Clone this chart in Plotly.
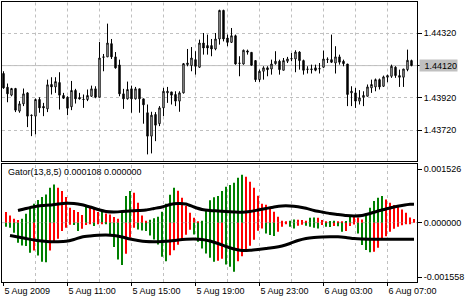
import plotly.graph_objects as go

# ---------------- data (EURUSD-like M15 bars, 5 Aug 07:00 -> 6 Aug 08:30) ----------------
OPEN = [1.44071, 1.43986, 1.43937, 1.43978, 1.43838, 1.43883, 1.43951, 1.43813, 1.43807, 1.43910,
        1.43867, 1.43852, 1.44003, 1.43988, 1.44015, 1.43935, 1.43924, 1.43865, 1.43966, 1.43922,
        1.43911, 1.43910, 1.43930, 1.43976, 1.43924, 1.44174, 1.44174, 1.44256, 1.44174, 1.44124,
        1.43945, 1.43914, 1.43976, 1.43914, 1.43976, 1.43914, 1.43828, 1.43683, 1.43817, 1.43760,
        1.43858, 1.43951, 1.43957, 1.43941, 1.43900, 1.43951, 1.44126, 1.44120, 1.44157, 1.44110,
        1.44260, 1.44244, 1.44244, 1.44223, 1.44285, 1.44462, 1.44291, 1.44264, 1.44305, 1.44136,
        1.44130, 1.44211, 1.44202, 1.44151, 1.44033, 1.44085, 1.44106, 1.44099, 1.44132, 1.44147,
        1.44091, 1.44147, 1.44161, 1.44161, 1.44204, 1.44151, 1.44099, 1.44095, 1.44106, 1.44099,
        1.44110, 1.44157, 1.44157, 1.44136, 1.44174, 1.44147, 1.44130, 1.43951, 1.43951, 1.43900,
        1.43924, 1.43930, 1.43982, 1.43988, 1.44033, 1.43992, 1.44048, 1.44054, 1.44110, 1.44058,
        1.44048, 1.44095, 1.44151]
HIGH = [1.44085, 1.44009, 1.43982, 1.43982, 1.43900, 1.43978, 1.43955, 1.43817, 1.43916, 1.43924,
        1.43889, 1.44033, 1.44048, 1.44048, 1.44079, 1.43951, 1.43930, 1.44025, 1.43976, 1.43951,
        1.43941, 1.43972, 1.43996, 1.43992, 1.44266, 1.44192, 1.44380, 1.44285, 1.44204, 1.44157,
        1.43976, 1.44021, 1.43996, 1.43988, 1.43976, 1.43914, 1.43879, 1.43834, 1.43832, 1.43869,
        1.43982, 1.43988, 1.43957, 1.43961, 1.43961, 1.44136, 1.44223, 1.44235, 1.44209, 1.44281,
        1.44322, 1.44312, 1.44285, 1.44322, 1.44466, 1.44466, 1.44312, 1.44353, 1.44312, 1.44178,
        1.44219, 1.44219, 1.44202, 1.44151, 1.44095, 1.44116, 1.44116, 1.44157, 1.44209, 1.44157,
        1.44167, 1.44174, 1.44198, 1.44215, 1.44209, 1.44157, 1.44116, 1.44126, 1.44126, 1.44136,
        1.44213, 1.44171, 1.44312, 1.44240, 1.44188, 1.44157, 1.44130, 1.43992, 1.43982, 1.43968,
        1.43961, 1.44003, 1.44033, 1.44040, 1.44040, 1.44058, 1.44064, 1.44126, 1.44116, 1.44095,
        1.44099, 1.44219, 1.44157]
LOW = [1.43976, 1.43893, 1.43930, 1.43832, 1.43828, 1.43869, 1.43739, 1.43683, 1.43694, 1.43828,
       1.43807, 1.43832, 1.43941, 1.43951, 1.43848, 1.43914, 1.43813, 1.43844, 1.43885, 1.43910,
       1.43858, 1.43900, 1.43926, 1.43918, 1.43924, 1.44085, 1.44174, 1.44161, 1.44101, 1.43930,
       1.43852, 1.43910, 1.43828, 1.43910, 1.43828, 1.43760, 1.43570, 1.43576, 1.43652, 1.43745,
       1.43807, 1.43889, 1.43879, 1.43869, 1.43834, 1.43947, 1.44116, 1.44085, 1.44064, 1.44106,
       1.44188, 1.44188, 1.44178, 1.44215, 1.44250, 1.44270, 1.44240, 1.44260, 1.44126, 1.44054,
       1.44126, 1.44188, 1.44120, 1.44019, 1.44019, 1.44033, 1.44054, 1.44064, 1.44126, 1.44064,
       1.44091, 1.44136, 1.44147, 1.44079, 1.44095, 1.44064, 1.44071, 1.44071, 1.44085, 1.44071,
       1.44106, 1.44136, 1.44136, 1.44071, 1.44126, 1.44116, 1.43869, 1.43869, 1.43858, 1.43879,
       1.43869, 1.43930, 1.43951, 1.43961, 1.43972, 1.43988, 1.44017, 1.44044, 1.44044, 1.43988,
       1.43988, 1.44085, 1.44116]
CLOSE = [1.43982, 1.43945, 1.43978, 1.43844, 1.43883, 1.43945, 1.43807, 1.43811, 1.43910, 1.43858,
         1.43858, 1.44001, 1.43988, 1.44021, 1.43937, 1.43918, 1.43856, 1.43966, 1.43914, 1.43914,
         1.43910, 1.43935, 1.43976, 1.43924, 1.44167, 1.44172, 1.44260, 1.44174, 1.44106, 1.43945,
         1.43914, 1.43972, 1.43914, 1.43976, 1.43914, 1.43877, 1.43683, 1.43813, 1.43751, 1.43858,
         1.43961, 1.43961, 1.43937, 1.43900, 1.43951, 1.44132, 1.44136, 1.44167, 1.44116, 1.44260,
         1.44229, 1.44229, 1.44223, 1.44285, 1.44462, 1.44285, 1.44264, 1.44305, 1.44130, 1.44134,
         1.44215, 1.44204, 1.44122, 1.44033, 1.44085, 1.44106, 1.44095, 1.44130, 1.44147, 1.44095,
         1.44151, 1.44161, 1.44163, 1.44204, 1.44151, 1.44091, 1.44097, 1.44099, 1.44091, 1.44101,
         1.44161, 1.44159, 1.44141, 1.44174, 1.44141, 1.44132, 1.43941, 1.43961, 1.43900, 1.43920,
         1.43935, 1.43988, 1.44003, 1.44033, 1.43988, 1.44050, 1.44058, 1.44116, 1.44058, 1.44048,
         1.44099, 1.44153, 1.44120]

# Gator oscillator histograms (upper = |jaw-teeth|, lower = -|teeth-lips|)
GATOR_UP = [0.000306, 0.000209, 0.000114, 0.000077, 0.000114, 0.000257, 0.000409, 0.000543, 0.000649, 0.000735,
            0.000809, 0.001001, 0.001095, 0.001001, 0.000907, 0.000735, 0.000429, 0.000363, 0.000306, 0.000220,
            0.000449, 0.000429, 0.000409, 0.000306, 0.000335, 0.000266, 0.000237, 0.000163, 0.000114, 0.000286,
            0.000764, 0.000907, 0.000858, 0.000572, 0.000209, 0.000057, 0.000086, 0.000129, 0.000172, 0.000315,
            0.000543, 0.000801, 0.001001, 0.000915, 0.000715, 0.000486, 0.000286, 0.000143, 0.000043, 0.000057,
            0.000358, 0.000644, 0.000724, 0.000764, 0.000907, 0.001030, 0.001078, 0.001144, 0.001287, 0.001373,
            0.001316, 0.001173, 0.001001, 0.000772, 0.000543, 0.000515, 0.000429, 0.000315, 0.000172, 0.000057,
            0.000029, 0.000057, 0.000094, 0.000086, 0.000080, 0.000057, 0.000143, 0.000152, 0.000143, 0.000077,
            0.000029, 0.000049, 0.000057, 0.000029, 0.000014, 0.000049, 0.000172, 0.000166, 0.000152, 0.000094,
            0.000266, 0.000429, 0.000621, 0.000715, 0.000764, 0.000666, 0.000572, 0.000506, 0.000458, 0.000380,
            0.000286, 0.000152, 0.000108]
GATOR_DN = [-0.000114, -0.000143, -0.000286, -0.000572, -0.000649, -0.000666, -0.000858, -0.000792, -0.000935, -0.001115,
            -0.001130, -0.000792, -0.000523, -0.000458, -0.000237, -0.000143, -0.000057, -0.000066, -0.000237, -0.000172,
            -0.000066, -0.000029, -0.000094, -0.000043, -0.000020, -0.000034, -0.000380, -0.000695, -0.001050, -0.001210,
            -0.000887, -0.000429, -0.000143, -0.000192, -0.000220, -0.000237, -0.000363, -0.000478, -0.000623, -0.000972,
            -0.001101, -0.000930, -0.000787, -0.000629, -0.000486, -0.000343, -0.000200, -0.000337, -0.000543, -0.000738,
            -0.000881, -0.001001, -0.001115, -0.001087, -0.001030, -0.001193, -0.001258, -0.001401, -0.001101, -0.000958,
            -0.000772, -0.000658, -0.000486, -0.000229, -0.000163, -0.000306, -0.000352, -0.000380, -0.000257, -0.000114,
            -0.000029, -0.000114, -0.000163, -0.000086, -0.000057, -0.000086, -0.000114, -0.000143, -0.000163, -0.000066,
            -0.000114, -0.000120, -0.000094, -0.000100, -0.000257, -0.000237, -0.000094, -0.000049, -0.000306, -0.000638,
            -0.000781, -0.000844, -0.000829, -0.000715, -0.000486, -0.000386, -0.000257, -0.000172, -0.000114, -0.000072,
            -0.000043, -0.000023, 0.0]

# smooth envelope lines drawn on the oscillator window
UP_LINE_BARS = list(range(3, 102, 2)) + [102]
UP_LINE = [0.000349, 0.000406, 0.000458, 0.000492, 0.000506, 0.000535, 0.000555, 0.000549, 0.000512, 0.000449,
           0.000378, 0.000320, 0.000306, 0.000320, 0.000335, 0.000349, 0.000363, 0.000406, 0.000449, 0.000521,
           0.000549, 0.000535, 0.000449, 0.000378, 0.000349, 0.000335, 0.000320, 0.000306, 0.000297, 0.000320,
           0.000363, 0.000406, 0.000449, 0.000478, 0.000478, 0.000455, 0.000412, 0.000349, 0.000306, 0.000263,
           0.000235, 0.000206, 0.000192, 0.000206, 0.000263, 0.000335, 0.000392, 0.000449, 0.000492, 0.000526,
           0.000526]
DN_LINE_BARS = list(range(1, 102, 2)) + [102]
DN_LINE = [-0.000366, -0.000409, -0.000452, -0.000495, -0.000523, -0.000543, -0.000543, -0.000532, -0.000480, -0.000409,
           -0.000380, -0.000360, -0.000352, -0.000366, -0.000409, -0.000466, -0.000509, -0.000538, -0.000543, -0.000538,
           -0.000523, -0.000495, -0.000475, -0.000466, -0.000480, -0.000523, -0.000595, -0.000681, -0.000752, -0.000795,
           -0.000789, -0.000766, -0.000738, -0.000709, -0.000666, -0.000595, -0.000509, -0.000452, -0.000423, -0.000409,
           -0.000403, -0.000403, -0.000423, -0.000452, -0.000466, -0.000472, -0.000475, -0.000475, -0.000475, -0.000475,
           -0.000475, -0.000475]

PRICE_TICKS = [1.43720, 1.43920, 1.44120, 1.44320]
OSC_TICKS = [0.001526, 0.0, -0.001558]
OSC_TICK_TEXT = ["0.001526", "0.000000", "-0.001558"]
TIME_TICK_BARS = [0, 16, 32, 48, 64, 80, 96]
TIME_TICK_TEXT = ["5 Aug 2009", "5 Aug 11:00", "5 Aug 15:00", "5 Aug 19:00",
                  "5 Aug 23:00", "6 Aug 03:00", "6 Aug 07:00"]
GRID_BARS = [8, 16, 24, 32, 40, 48, 56, 64, 72, 80, 88, 96]
BID = 1.44120
GATOR_LABEL = "Gator(13,8,5) 0.000108 0.000000"

# ---------------- styling ----------------
GREEN = "#008000"
RED = "#FF0000"
GRID = "#C0C0C0"
FONT = dict(family="Liberation Sans, Arial, sans-serif", size=9, color="black")
GATOR_SHIFT = 0.625  # oscillator bars are drawn slightly right of the candle centres

N = len(OPEN)
idx = list(range(N))


def hist_colors(vals, first):
    out, prev, col = [], None, first
    for v in vals:
        m = abs(v)
        if prev is not None:
            if m > prev:
                col = GREEN
            elif m < prev:
                col = RED
        out.append(col)
        prev = m
    return out


fig = go.Figure()

fig.add_trace(go.Candlestick(
    x=idx, open=OPEN, high=HIGH, low=LOW, close=CLOSE,
    increasing=dict(line=dict(color="black", width=1), fillcolor="white"),
    decreasing=dict(line=dict(color="black", width=1), fillcolor="black"),
    whiskerwidth=0, xaxis="x", yaxis="y", showlegend=False, hoverinfo="skip"))

gx = [i + GATOR_SHIFT for i in idx]
fig.add_trace(go.Bar(x=gx, y=GATOR_UP, width=0.5, marker=dict(color=hist_colors(GATOR_UP, RED), line=dict(width=0)),
                     xaxis="x2", yaxis="y2", showlegend=False))
fig.add_trace(go.Bar(x=gx, y=GATOR_DN, width=0.5, marker=dict(color=hist_colors(GATOR_DN, GREEN), line=dict(width=0)),
                     xaxis="x2", yaxis="y2", showlegend=False))
fig.add_trace(go.Scatter(x=[b + GATOR_SHIFT for b in UP_LINE_BARS], y=UP_LINE, mode="lines",
                         line=dict(color="black", width=3, shape="spline", smoothing=0.6),
                         xaxis="x2", yaxis="y2", showlegend=False))
fig.add_trace(go.Scatter(x=[b + GATOR_SHIFT for b in DN_LINE_BARS], y=DN_LINE, mode="lines",
                         line=dict(color="black", width=3, shape="spline", smoothing=0.6),
                         xaxis="x2", yaxis="y2", showlegend=False))

XR = [-0.375, 103.375]
axis_common = dict(showline=True, mirror=True, linecolor="black", linewidth=1, zeroline=False)

shapes = []
for g in GRID_BARS:
    for yr in ("y domain", "y2 domain"):
        shapes.append(dict(type="line", xref="x" if yr == "y domain" else "x2", yref=yr, x0=g, x1=g, y0=0, y1=1,
                           line=dict(color=GRID, width=1, dash="3px,3px"), layer="below"))
shapes.append(dict(type="line", xref="x2 domain", yref="y2", x0=0, x1=1, y0=0, y1=0,
                   line=dict(color=GRID, width=1, dash="3px,3px"), layer="below"))
shapes.append(dict(type="line", xref="x domain", yref="y", x0=0, x1=1, y0=BID, y1=BID,
                   line=dict(color=GRID, width=1), layer="below"))

fig.update_layout(
    width=470, height=300,
    margin=dict(l=2, r=53, t=2, b=18),
    paper_bgcolor="white", plot_bgcolor="white",
    font=FONT, barmode="overlay", boxgap=0.5,
    xaxis=dict(domain=[0, 1], range=XR, anchor="y", showticklabels=False, ticks="", showgrid=False,
               rangeslider=dict(visible=False), **axis_common),
    yaxis=dict(domain=[0.4304, 1], range=[1.43526, 1.44514], side="right", anchor="x",
               tickvals=PRICE_TICKS, tickformat=".5f", ticks="outside", ticklen=4, tickcolor="black",
               showgrid=True, gridcolor=GRID, griddash="3px,3px", gridwidth=1, **axis_common),
    xaxis2=dict(domain=[0, 1], range=XR, anchor="y2", matches="x", tickvals=TIME_TICK_BARS,
                ticktext=TIME_TICK_TEXT, ticks="outside", ticklen=3, tickcolor="black",
                ticklabelposition="outside right", showgrid=False, **axis_common),
    yaxis2=dict(domain=[0, 0.4204], range=[-0.001696, 0.00167], side="right", anchor="x2",
                tickvals=OSC_TICKS, ticktext=OSC_TICK_TEXT, ticks="outside", ticklen=4, tickcolor="black",
                showgrid=False, **axis_common),
    shapes=shapes,
    annotations=[
        dict(xref="paper", yref="y", x=1.0048, y=BID, xanchor="left", yanchor="middle", text="1.44120",
             showarrow=False, bgcolor="#C0C0C0", width=37, height=11, align="right", borderpad=0, font=FONT),
        dict(xref="paper", yref="paper", x=0.0096, y=0.3918, xanchor="left", yanchor="middle",
             text=GATOR_LABEL, showarrow=False, font=FONT),
    ],
)

fig.write_html("out.html")
